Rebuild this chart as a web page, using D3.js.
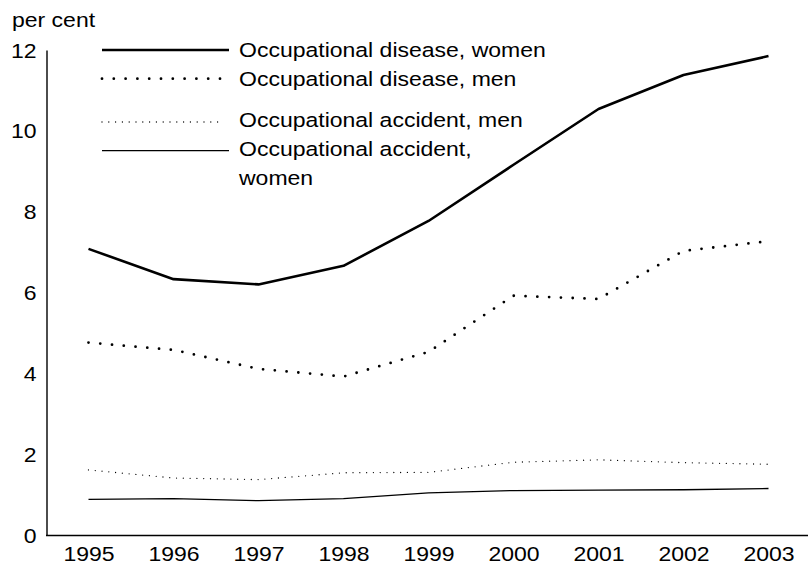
<!DOCTYPE html>
<html>
<head>
<meta charset="utf-8">
<script src="https://cdn.jsdelivr.net/npm/d3@7/dist/d3.min.js"></script>
<style>
  html, body { margin: 0; padding: 0; background: #fff; }
  svg { display: block; }
  text { font-family: "Liberation Sans", Arial, Helvetica, sans-serif; fill: #000; }
</style>
</head>
<body>
<svg id="chart" width="808" height="564"></svg>
<script>
const years = [1995, 1996, 1997, 1998, 1999, 2000, 2001, 2002, 2003];
const diseaseWomen  = [7.08, 6.33, 6.20, 6.66, 7.77, 9.16, 10.54, 11.38, 11.85];
const diseaseMen    = [4.76, 4.58, 4.11, 3.92, 4.53, 5.92, 5.84, 7.03, 7.27];
const accidentMen   = [1.61, 1.41, 1.37, 1.54, 1.55, 1.80, 1.86, 1.79, 1.75];
const accidentWomen = [0.88, 0.90, 0.85, 0.90, 1.04, 1.10, 1.11, 1.12, 1.15];
const yTicks = [0, 2, 4, 6, 8, 10, 12];
const seriesNames = ["Occupational disease, women", "Occupational disease, men",
                     "Occupational accident, men", ["Occupational accident,", "women"]];
const yAxisTitle = "per cent";

const svg = d3.select("#chart");
const SX = 1.18;      // horizontal stretch of the type in the reference
const FS = 19.5;

const x = d3.scaleLinear().domain([1995, 2003]).range([88.5, 768.5]);
const y = d3.scaleLinear().domain([0, 12]).range([535, 50]);

const styles = [
  { width: 2.6, dash: null, cap: "butt" },
  { width: 2.8, dash: "0,11.8", cap: "round" },
  { width: 1.3, dash: "0,6.8", cap: "round" },
  { width: 1.3, dash: null, cap: "butt" }
];
const series = [diseaseWomen, diseaseMen, accidentMen, accidentWomen];

// axes
const yAxis = d3.axisLeft(y).tickValues(yTicks).tickSize(0).tickPadding(8.5);
const gy = svg.append("g").attr("transform", "translate(46.5,0)").call(yAxis);
gy.select(".domain").attr("stroke", "#000").attr("stroke-width", 1.4);
gy.selectAll(".tick text")
  .attr("font-size", FS).attr("dy", "0.36em")
  .attr("transform", `scale(${SX},1)`)
  .style("font-family", '"Liberation Sans", Arial, sans-serif');

const xAxis = d3.axisBottom(x).tickValues(years).tickFormat(d3.format("d")).tickSize(0).tickPadding(0);
const gx = svg.append("g").attr("transform", "translate(0,535.5)").call(xAxis);
gx.select(".domain").remove();
gx.append("line").attr("x1", 46).attr("x2", 808).attr("y1", 0).attr("y2", 0)
  .attr("stroke", "#000").attr("stroke-width", 1.4);
gx.selectAll(".tick text")
  .attr("font-size", FS).attr("y", 25.5).attr("dy", null)
  .attr("transform", `scale(${SX},1)`)
  .style("font-family", '"Liberation Sans", Arial, sans-serif');

svg.append("text").attr("transform", `translate(12,27) scale(${SX},1)`)
  .attr("font-size", FS).text(yAxisTitle);

// lines
const line = d3.line().x((d, i) => x(years[i])).y(d => y(d));
series.forEach((s, k) => {
  svg.append("path").datum(s)
    .attr("d", line)
    .attr("fill", "none")
    .attr("stroke", "#000")
    .attr("stroke-width", styles[k].width)
    .attr("stroke-linecap", styles[k].cap)
    .attr("stroke-linejoin", "round")
    .attr("stroke-dasharray", styles[k].dash);
});

// legend
const legY = [50, 78.7, 122, 150.7];
const legX2 = [229, 223, 223, 229];
const textBase = [57.3, 86, 126.7, 155.7];
legY.forEach((ly, k) => {
  svg.append("line")
    .attr("x1", 102).attr("x2", legX2[k]).attr("y1", ly).attr("y2", ly)
    .attr("stroke", "#000")
    .attr("stroke-width", styles[k].width)
    .attr("stroke-linecap", styles[k].cap)
    .attr("stroke-dasharray", styles[k].dash);
  const lab = Array.isArray(seriesNames[k]) ? seriesNames[k] : [seriesNames[k]];
  lab.forEach((t, j) => {
    svg.append("text")
      .attr("transform", `translate(239,${textBase[k] + j * 29.3}) scale(${SX},1)`)
      .attr("font-size", FS)
      .text(t);
  });
});
</script>
</body>
</html>
